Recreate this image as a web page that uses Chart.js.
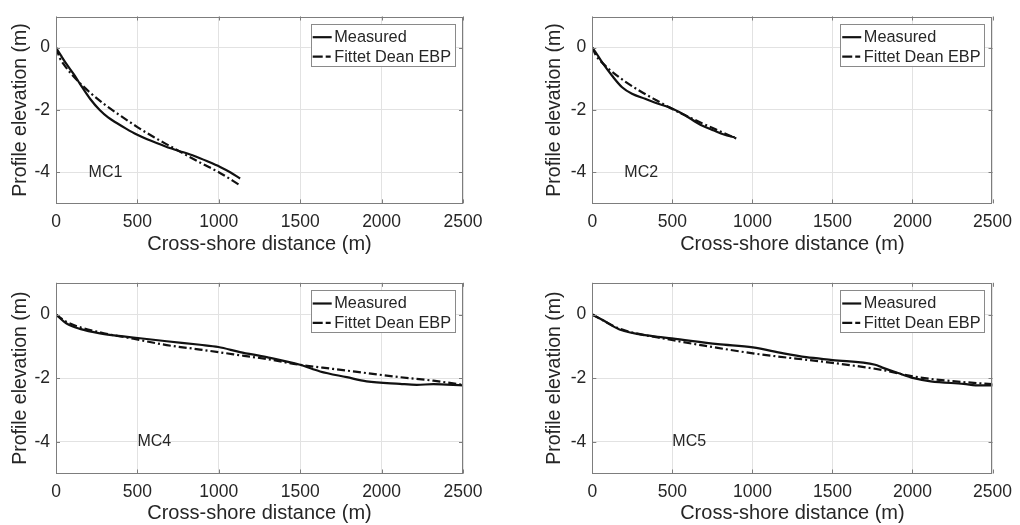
<!DOCTYPE html>
<html><head><meta charset="utf-8">
<script src="https://cdn.jsdelivr.net/npm/chart.js@4.4.0/dist/chart.umd.min.js"></script>
<style>
html,body{margin:0;padding:0;background:#fff;width:1020px;height:525px;overflow:hidden;}
canvas{position:absolute;display:block;}
</style></head><body>
<canvas id="c1" width="510" height="262" style="left:0;top:0;width:510px;height:262px"></canvas>
<canvas id="c2" width="510" height="262" style="left:510px;top:0;width:510px;height:262px"></canvas>
<canvas id="c3" width="510" height="263" style="left:0;top:262px;width:510px;height:263px"></canvas>
<canvas id="c4" width="510" height="263" style="left:510px;top:262px;width:510px;height:263px"></canvas>
<script>
// ---- data ----
const xTicks = [0, 500, 1000, 1500, 2000, 2500];
const yTicks = [-4, -2, 0];
const seriesNames = ['Measured', 'Fittet Dean EBP'];
const panelLabels = ['MC1', 'MC2', 'MC4', 'MC5'];
const xAxisTitle = 'Cross-shore distance (m)';
const yAxisTitle = 'Profile elevation (m)';

const mc1MeasX = [0, 30, 66, 110, 148, 209, 270, 320, 373, 430, 496, 560, 639, 710, 783, 850, 930, 1008, 1070, 1131];
const mc1MeasY = [0, -0.25, -0.54, -0.86, -1.17, -1.64, -2.01, -2.24, -2.42, -2.60, -2.79, -2.94, -3.10, -3.24, -3.36, -3.48, -3.65, -3.83, -4.00, -4.20];
const mc1FitX = [0, 25, 50, 100, 200, 300, 400, 500, 600, 700, 800, 900, 1000, 1131];
const mc1FitY = [0, -0.35, -0.55, -0.88, -1.40, -1.83, -2.20, -2.55, -2.87, -3.16, -3.45, -3.73, -4.00, -4.42];

const mc2MeasX = [0, 30, 64, 125, 186, 248, 330, 412, 498, 540, 576, 678, 760, 822, 890];
const mc2MeasY = [0, -0.22, -0.49, -0.91, -1.27, -1.48, -1.64, -1.80, -1.95, -2.06, -2.16, -2.48, -2.66, -2.79, -2.88];
const mc2FitX = [0, 25, 50, 100, 150, 200, 300, 400, 500, 600, 700, 800, 900];
const mc2FitY = [0, -0.27, -0.42, -0.67, -0.88, -1.07, -1.40, -1.69, -1.97, -2.22, -2.46, -2.69, -2.92];

const mc4MeasX = [0, 65, 147, 270, 475, 680, 885, 997, 1130, 1294, 1499, 1622, 1786, 1908, 2113, 2216, 2318, 2500];
const mc4MeasY = [0, -0.28, -0.45, -0.59, -0.72, -0.84, -0.95, -1.02, -1.18, -1.34, -1.58, -1.79, -1.97, -2.10, -2.18, -2.21, -2.19, -2.23];
const mc4FitX = [0, 65, 270, 475, 680, 885, 1090, 1294, 1499, 1703, 1908, 2113, 2318, 2500];
const mc4FitY = [0, -0.23, -0.56, -0.76, -0.96, -1.10, -1.25, -1.40, -1.58, -1.71, -1.84, -1.97, -2.08, -2.21];

const mc5MeasX = [0, 68, 170, 375, 497, 784, 1003, 1194, 1337, 1501, 1767, 1808, 1910, 2008, 2114, 2319, 2421, 2500];
const mc5MeasY = [0, -0.18, -0.47, -0.68, -0.75, -0.93, -1.03, -1.22, -1.34, -1.43, -1.58, -1.66, -1.84, -2.00, -2.10, -2.18, -2.23, -2.23];
const mc5FitX = [0, 170, 497, 750, 1003, 1501, 1808, 2008, 2217, 2500];
const mc5FitY = [0, -0.44, -0.80, -1.02, -1.22, -1.52, -1.74, -1.95, -2.08, -2.19];

const labelPosX = [200, 200, 500, 500];
const labelPosY = -4;

// ---- styling / layout ----
const FONT = '"Liberation Sans", Arial, Helvetica, sans-serif';
const TXT = '#262626';
const GRID = '#e2e2e2';
const BOX = '#7d7d7d';

const panels = [
  {id:'c1', cx:0,   cy:0,   w:510, h:262, L:56,    T:12.6,  R:463,   B:203.4, ytp:9.3,  xtp:6.0, mx:mc1MeasX, my:mc1MeasY, fx:mc1FitX, fy:mc1FitY},
  {id:'c2', cx:510, cy:0,   w:510, h:262, L:592.3, T:12.6,  R:999.3, B:203.4, ytp:33.3, xtp:6.0, mx:mc2MeasX, my:mc2MeasY, fx:mc2FitX, fy:mc2FitY},
  {id:'c3', cx:0,   cy:262, w:510, h:263, L:56,    T:282.8, R:463,   B:473.5, ytp:9.3,  xtp:0.0, mx:mc4MeasX, my:mc4MeasY, fx:mc4FitX, fy:mc4FitY},
  {id:'c4', cx:510, cy:262, w:510, h:263, L:592.3, T:282.8, R:999.3, B:473.5, ytp:33.3, xtp:0.0, mx:mc5MeasX, my:mc5MeasY, fx:mc5FitX, fy:mc5FitY},
];

function pts(xs, ys){ return xs.map((x,i)=>({x:x, y:ys[i]})); }

panels.forEach((p, idx) => {
  const decor = {
    id: 'decor' + idx,
    afterDraw(chart) {
      const ctx = chart.ctx, a = chart.chartArea;
      const sx = chart.scales.x, sy = chart.scales.y;
      ctx.save();
      // box
      ctx.strokeStyle = BOX; ctx.lineWidth = 1;
      ctx.strokeRect(Math.round(a.left)+0.5, Math.round(a.top)+0.5, Math.round(a.right-a.left)-1, Math.round(a.bottom-a.top)-1);
      // inward ticks
      ctx.beginPath();
      const tl = 4;
      xTicks.forEach(v => { const X = Math.round(sx.getPixelForValue(v))+0.5;
        ctx.moveTo(X, a.bottom); ctx.lineTo(X, a.bottom - tl);
        ctx.moveTo(X, a.top); ctx.lineTo(X, a.top + tl); });
      yTicks.forEach(v => { const Y = Math.round(sy.getPixelForValue(v))+0.5;
        ctx.moveTo(a.left, Y); ctx.lineTo(a.left + tl, Y);
        ctx.moveTo(a.right, Y); ctx.lineTo(a.right - tl, Y); });
      ctx.stroke();
      // panel label
      ctx.fillStyle = TXT; ctx.font = '16px ' + FONT;
      ctx.textAlign = 'left'; ctx.textBaseline = 'middle';
      ctx.fillText(panelLabels[idx], sx.getPixelForValue(labelPosX[idx]), sy.getPixelForValue(labelPosY));
      // legend
      const bw = 144.3, bh = 42;
      const bx = a.right - 8 - bw, by = a.top + 7.4;
      ctx.fillStyle = '#fff';
      ctx.fillRect(bx, by, bw, bh);
      ctx.strokeStyle = '#8a8a8a'; ctx.lineWidth = 1;
      ctx.strokeRect(Math.round(bx)+0.5, Math.round(by)+0.5, Math.round(bw), Math.round(bh));
      const y1 = by + 13.3, y2 = by + 32.7;
      ctx.strokeStyle = '#111'; ctx.lineWidth = 2.2;
      ctx.setLineDash([]);
      ctx.beginPath(); ctx.moveTo(bx + 2, y1); ctx.lineTo(bx + 21, y1); ctx.stroke();
      ctx.setLineDash([10, 3, 5, 3]);
      ctx.beginPath(); ctx.moveTo(bx + 2, y2); ctx.lineTo(bx + 21, y2); ctx.stroke();
      ctx.setLineDash([]);
      ctx.fillStyle = TXT; ctx.font = '16.3px ' + FONT;
      ctx.textAlign = 'left'; ctx.textBaseline = 'middle';
      ctx.fillText(seriesNames[0], bx + 23.6, y1 + 0.5);
      ctx.fillText(seriesNames[1], bx + 23.6, y2 + 0.5);
      ctx.restore();
    }
  };

  new Chart(document.getElementById(p.id), {
    type: 'line',
    data: {
      datasets: [
        {label: seriesNames[0], data: pts(p.mx, p.my), borderColor: '#111', borderWidth: 2.2, pointRadius: 0, fill: false, cubicInterpolationMode: 'monotone'},
        {label: seriesNames[1], data: pts(p.fx, p.fy), borderColor: '#111', borderWidth: 2.2, pointRadius: 0, fill: false, cubicInterpolationMode: 'monotone', borderDash: [8, 3, 2, 3]}
      ]
    },
    options: {
      responsive: false,
      animation: false,
      events: [],
      layout: {padding: {top: p.T - p.cy, right: p.cx + p.w - p.R, left: 0, bottom: 0}},
      plugins: {legend: {display: false}, tooltip: {enabled: false}},
      scales: {
        x: {
          type: 'linear', min: 0, max: 2500,
          afterBuildTicks: s => { s.ticks = xTicks.map(v => ({value: v})); },
          afterFit: s => { s.height = p.cy + p.h - p.B; },
          ticks: {padding: 8, color: TXT, font: {family: FONT, size: 17.5}, maxRotation: 0, autoSkip: false, callback: v => String(v)},
          grid: {color: GRID, drawTicks: false, lineWidth: 1},
          border: {display: false},
          title: {display: true, text: xAxisTitle, color: TXT, font: {family: FONT, size: 20}, padding: {top: 0, bottom: p.xtp}}
        },
        y: {
          type: 'linear', min: -5, max: 1,
          afterBuildTicks: s => { s.ticks = yTicks.map(v => ({value: v})); },
          afterFit: s => { s.width = p.L - p.cx; },
          ticks: {padding: 6, color: TXT, font: {family: FONT, size: 17.5}, callback: v => String(v)},
          grid: {color: GRID, drawTicks: false, lineWidth: 1},
          border: {display: false},
          title: {display: true, text: yAxisTitle, color: TXT, font: {family: FONT, size: 19.5}, padding: {top: p.ytp, bottom: 0}}
        }
      }
    },
    plugins: [decor]
  });
});
</script>
</body></html>
